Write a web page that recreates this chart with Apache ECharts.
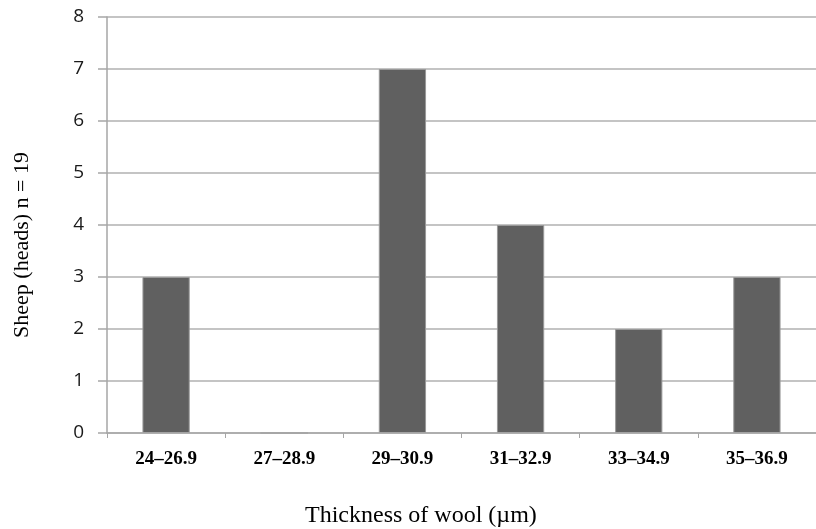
<!DOCTYPE html>
<html>
<head>
<meta charset="utf-8">
<script src="https://cdn.jsdelivr.net/npm/echarts@6/dist/echarts.min.js"></script>
<style>html,body{margin:0;padding:0;background:#fff;overflow:hidden}#c{width:816px;height:529px}</style>
</head>
<body>
<div id="c"></div>
<script>
var categories = ['24–26.9', '27–28.9', '29–30.9', '31–32.9', '33–34.9', '35–36.9'];
var sheep = [3, 0, 7, 4, 2, 3];
var yTicks = [0, 1, 2, 3, 4, 5, 6, 7, 8];
var xTitle = 'Thickness of wool (µm)';
var yTitle = 'Sheep (heads) n = 19';

var chart = echarts.init(document.getElementById('c'), null, {width: 816, height: 529});
chart.setOption({
  animation: false,
  grid: {left: 107, top: 17, width: 718, height: 416, containLabel: false},
  graphic: [
    {type: 'text', left: 305, top: 504,
      style: {text: xTitle, font: '24px "Liberation Serif"', fill: '#000'}},
    {type: 'text', x: 22, y: 245, rotation: Math.PI / 2,
      style: {text: yTitle, font: '22px "Liberation Serif"', fill: '#000', align: 'center', verticalAlign: 'middle'}}
  ],
  xAxis: {
    type: 'category',
    data: categories,
    z: 5,
    axisLine: {lineStyle: {color: '#a6a6a6', width: 1.5}},
    axisTick: {show: true, length: 5, lineStyle: {color: '#a6a6a6'}},
    axisLabel: {fontFamily: 'Liberation Serif', fontWeight: 'bold', fontSize: 19, color: '#000', margin: 17}
  },
  yAxis: {
    type: 'value',
    min: 0, max: 8, interval: 1,
    axisLine: {show: true, lineStyle: {color: '#a6a6a6', width: 1.5}},
    axisTick: {show: true, inside: false, length: 9, lineStyle: {color: '#a6a6a6', width: 1.5}},
    splitLine: {lineStyle: {color: '#b0b0b0', width: 1.5}},
    axisLabel: {fontFamily: 'Open Sans', fontSize: 19, color: '#1a1a1a', margin: 23,
      formatter: function (v) { return yTicks.indexOf(v) >= 0 ? String(v) : ''; }}
  },
  series: [{
    type: 'bar',
    data: sheep,
    barWidth: '40%',
    itemStyle: {color: '#606060', borderColor: '#9a9a9a', borderWidth: 1}
  }]
});
</script>
</body>
</html>
